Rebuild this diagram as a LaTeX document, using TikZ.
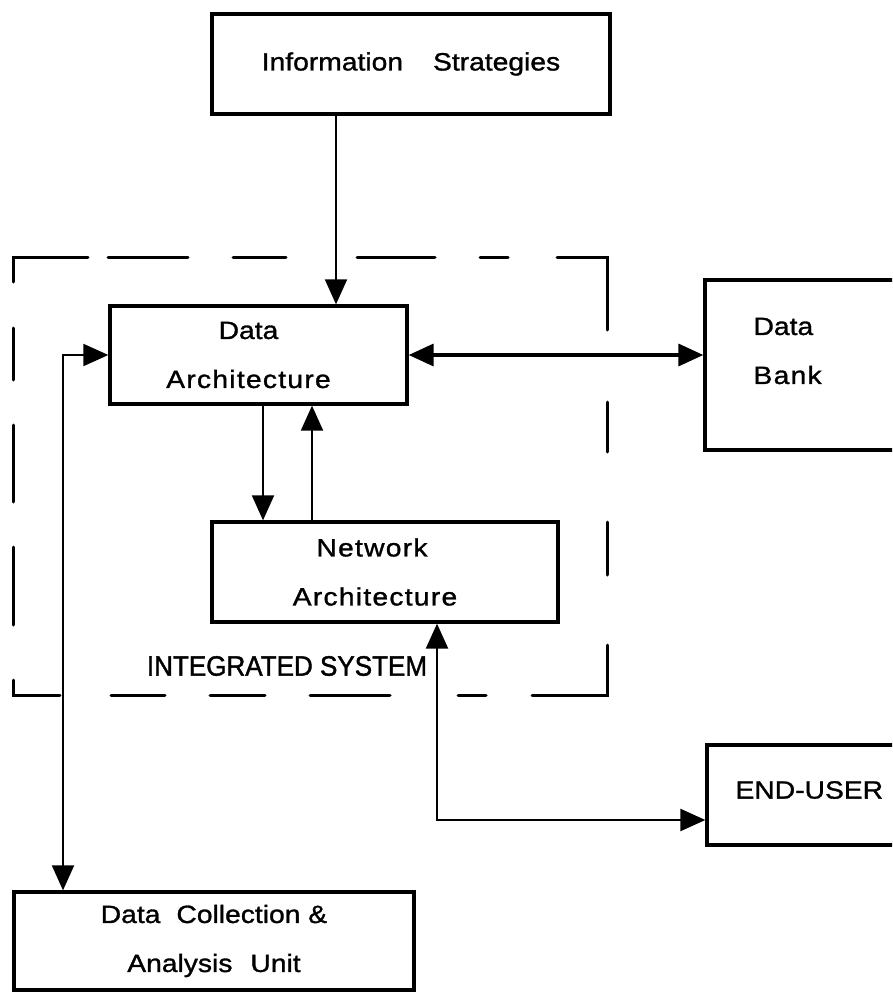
\documentclass[tikz,border=0pt]{standalone}
\usepackage{fontspec}
\setmainfont{Liberation Sans}
\newfontfamily\lblfont[FakeStretch=1.13, FakeBold=1.2]{Liberation Sans}
\newfontfamily\widefont[FakeStretch=1.13, FakeBold=1.2, LetterSpace=5]{Liberation Sans}
\newfontfamily\tightfont[FakeStretch=0.93, FakeBold=1.4]{Liberation Sans}
\usetikzlibrary{arrows.meta,calc}

\begin{document}
\begin{tikzpicture}[x=1pt,y=-1pt,
  box/.style={draw, line width=3.3pt, rectangle, inner sep=0pt, align=center,
    font=\lblfont\fontsize{25}{49}\selectfont},
  txt/.style={inner sep=0pt, align=left, font=\lblfont\fontsize{25}{49}\selectfont},
  tip/.tip={Triangle[length=25pt,width=22pt]},
  link/.style={line width=2pt, -tip},
  boundary/.style={line width=3pt, line cap=round, line join=miter}
]
\path[use as bounding box, clip] (0,0) rectangle (892,992);

% boxes
\node[box, minimum width=398pt, minimum height=100pt] (info) at (411,64)
  {Information\hspace{30pt}Strategies};
\node[box, minimum width=297pt, minimum height=98pt] (darch) at (258.5,355)
  {Data\hspace*{20pt}\\\widefont Architecture\hspace*{20pt}};
\node[box, minimum width=346pt, minimum height=100pt] (net) at (385,572)
  {\widefont Network\hspace*{26pt}\\\widefont Architecture\hspace*{20pt}};
\node[box, minimum width=210pt, minimum height=170pt] (bank) at (810,365) {};
\node[txt, anchor=west] (banktxt) at ($(bank.west)+(50,-14)$) {Data\\\widefont Bank};
\node[box, minimum width=210pt, minimum height=100pt] (user) at (812,795) {};
\node[txt, anchor=west] (usertxt) at ($(user.west)+(30,-5)$) {END-USER};
\node[box, minimum width=400pt, minimum height=98pt] (collect) at (214,941)
  {Data\hspace{16pt}Collection \&\\Analysis\hspace{18pt}Unit};
\node[inner sep=0pt, font=\tightfont\fontsize{28}{30}\selectfont] (integ) at (287,666)
  {INTEGRATED SYSTEM};

% dashed boundary of the integrated system
\draw[boundary] (13,282) -- (13,257) -- (88,257);
\draw[boundary] (108,257) -- (188,257);
\draw[boundary] (233,257) -- (286,257);
\draw[boundary] (357,257) -- (435,257);
\draw[boundary] (480,257) -- (508,257);
\draw[boundary] (557,257) -- (607,257) -- (607,330);
\draw[boundary] (607,402) -- (607,452);
\draw[boundary] (607,522) -- (607,575);
\draw[boundary] (607,645) -- (607,695) -- (532,695);
\draw[boundary] (486,695) -- (458,695);
\draw[boundary] (390,695) -- (310,695);
\draw[boundary] (265,695) -- (210,695);
\draw[boundary] (165,695) -- (111,695);
\draw[boundary] (60,695) -- (13,695) -- (13,680);
\draw[boundary] (13,625) -- (13,547);
\draw[boundary] (13,502) -- (13,425);
\draw[boundary] (13,380) -- (13,328);

% connectors
\coordinate (ia) at (336,0);
\coordinate (da) at (263,0);
\coordinate (ua) at (312,0);
\coordinate (lc) at (63,355);
\coordinate (rc) at (437,820);

\draw[link] (info.south -| ia) -- (darch.north -| ia);
\draw[link] (darch.south -| da) -- (net.north -| da);
\draw[link] (net.north -| ua) -- (darch.south -| ua);
\draw[line width=3.5pt, tip-tip] (darch.east) -- (darch.east -| bank.west);
\draw[line width=2pt, tip-tip] (darch.west) -- (lc) -- (lc |- collect.north);
\draw[line width=2.4pt, tip-tip] (rc |- net.south) -- (rc) -- (rc -| user.west);
\end{tikzpicture}
\end{document}
